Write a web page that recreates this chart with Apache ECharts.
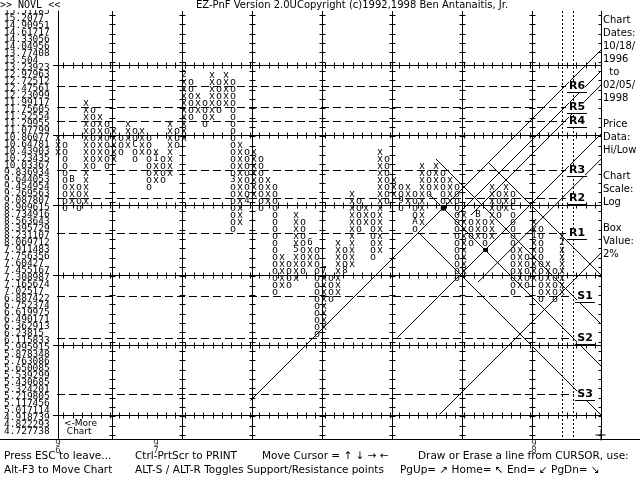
<!DOCTYPE html>
<html><head><meta charset="utf-8">
<script src="https://cdn.jsdelivr.net/npm/echarts@6/dist/echarts.min.js"></script>
<style>html,body{margin:0;padding:0;background:#fff}#c{width:640px;height:480px}</style>
</head><body><div id="c"></div>
<script>
// price level labels, one per box row (2% log boxes), bottom to top
const priceLabels = ['4.727738','4.822293','4.918739','5.017114','5.117456','5.219805','5.324201','5.430685','5.539299','5.650085',
'5.763086','5.878348','5.995915','6.115833','6.23815','6.362913','6.490171','6.619975','6.752374','6.887422',
'7.02517','7.165674','7.308987','7.455167','7.60427','7.756356','7.911483','8.069712','8.231107','8.395729',
'8.563643','8.734916','8.909615','9.087807','9.269563','9.454954','9.644053','9.836934','10.03367','10.23435',
'10.43903','10.64781','10.86077','11.07799','11.29955','11.52554','11.75605','11.99117','12.23099','12.47561',
'12.72512','12.97963','13.23923','13.504','13.77408','14.04956','14.33056','14.61717','14.90951','15.2077','15.51185'];
// point & figure columns (column 0 is an X column, then alternating O / X): lowest and highest box row
const colLow  = [40,32,33,32,33,38,39,38,39,40,41,39,40,35,36,36,37,41,42,45,46,44,45,46,47,29,30,33,34,32,33,20,
                 21,21,22,23,24,14,15,19,20,23,24,29,30,25,26,33,34,32,33,29,30,34,35,32,33,22,23,27,28,27,28,31,32,20,21,21,22,19,20,19,20];
const colHigh = [42,41,36,35,47,46,45,44,43,42,44,43,43,42,40,39,44,43,51,50,48,47,51,50,51,50,41,40,40,39,36,35,
                 25,24,31,30,27,26,23,22,27,26,34,33,32,31,40,39,36,35,35,34,38,37,38,37,36,35,31,30,31,30,35,34,35,34,26,25,30,29,24,23,28];
// month markers: [column, row, symbol]
const monthMarks = [[2,36,'B'],[11,41,'C'],[14,39,'1'],[18,51,'2'],[25,36,'3'],[27,33,'4'],[34,26,'5'],[36,27,'6'],
                    [38,23,'7'],[41,23,'8'],[49,33,'9'],[51,30,'A'],[60,31,'B'],[65,32,'C'],[68,28,'1'],[72,27,'2']];
// support points marked on the chart: [column, row]
const markPoints = [[55,32],[61,26]];
// drawn trend lines: [col1,row1,col2,row2]
const trendLines = [[27.5,4.5,77.57,54.57],[48.5,13.5,77.57,42.57],[54.5,2.5,77.57,25.57],[57,31,77.57,51.57],[59,31,77.57,49.57],
                    [60,21.4,77.57,38.97],[51.5,28.5,77.57,2.43],[53,34,77.57,9.43],[54,39,77.57,15.43],[61.5,38.5,77.57,22.43]];
// support / resistance levels (box boundaries) and their names
const srRows  = [49.5,46.5,44.5,37.5,33.5,28.5,19.5,13.5,5.5];
const srNames = ['R6','R5','R4','R3','R2','R1','S1','S2','S3'];
// year marks on the time axis
const yearCols = [0,14,68];
const yearLabels = ['96','97','98'];
// solid reference grid (every 10 boxes / 10 columns)
const gridRows = [2.5,12.5,22.5,32.5,42.5,52.5];
const gridCols = [7.714,17.714,27.714,37.714,47.714,57.714,67.714];
const cursorCols = [72,73.6];
const infoText = ['Chart','Dates:','10/18/','1996','  to','02/05/','1998','','Price','Data:','Hi/Low','','Chart','Scale:','Log','','Box','Value:','2%'];

const boxes = [], boxChars = [];
for (let c = 0; c < colLow.length; c++) {
  const t = c % 2 === 0 ? 'x' : 'o';
  for (let r = colLow[c]; r <= colHigh[c]; r++) {
    const m = monthMarks.find(d => d[0] === c && d[1] === r);
    boxes.push([c, r]); boxChars.push(m ? m[2] : t);
  }
}
const XMIN = -1/7, XMAX = 543/7, YMIN = -1, YMAX = 421/7;
const chart = echarts.init(document.getElementById('c'), null, {renderer:'canvas'});
const H = v => Math.round(v) + 0.5;
chart.setOption({
  animation: false,
  backgroundColor: '#fff',
  grid: {left: 57, right: 39, top: 11, bottom: 41},
  xAxis: {type:'value', min: XMIN, max: XMAX, axisLine:{show:false}, axisTick:{show:false}, axisLabel:{show:false}, splitLine:{show:false}},
  yAxis: {type:'value', min: YMIN, max: YMAX, interval: 1,
    axisLine:{show:true, lineStyle:{color:'#000', width:1}}, axisTick:{show:false}, splitLine:{show:false},
    axisLabel:{color:'#000', fontFamily:'DejaVu Sans Mono', fontSize:9.5, align:'left', margin:53,
      formatter: v => (Number.isInteger(v) && v >= 0 && v < priceLabels.length) ? priceLabels[v] : ''}},
  series: [
    { // grid lines with tick marks
      type:'custom', silent:true, z:1,
      data:[0],
      renderItem:(p, api) => {
        const ch = [];
        const x0 = api.coord([XMIN, 0])[0], x1 = api.coord([XMAX, 0])[0];
        const yT = api.coord([0, YMAX])[1], yB = api.coord([0, YMIN])[1];
        const st = {stroke:'#000', lineWidth:1};
        gridRows.forEach(r => { const y = H(api.coord([0, r])[1]);
          ch.push({type:'line', shape:{x1:x0-4, y1:y, x2:x1, y2:y}, style:st});
          for (let x = x0 + 6.3; x < x1 - 2; x += 9.33) ch.push({type:'line', shape:{x1:H(x), y1:y-3, x2:H(x), y2:y+3}, style:st});
        });
        gridCols.concat([XMAX]).forEach((c, i, a) => { const x = H(api.coord([c, 0])[0]);
          ch.push({type:'line', shape:{x1:x, y1:yT, x2:x, y2:yB}, style:st});
          const last = i === a.length - 1;
          for (let y = yT + 4; y < yB - 2; y += 9.33) ch.push({type:'line', shape:{x1:x-3, y1:H(y), x2:last ? x : x+3, y2:H(y)}, style:st});
        });
        cursorCols.forEach(c => { const x = H(api.coord([c, 0])[0]);
          ch.push({type:'line', shape:{x1:x, y1:yT, x2:x, y2:yB}, style:{stroke:'#000', lineWidth:1, lineDash:[2,2]}});
        });
        return {type:'group', children: ch};
      }
    },
    { // trend lines
      type:'custom', silent:true, z:2,
      data: trendLines,
      renderItem:(p, api) => {
        const a = api.coord([api.value(0), api.value(1)]), b = api.coord([api.value(2), api.value(3)]);
        return {type:'line', shape:{x1:a[0], y1:a[1], x2:b[0], y2:b[1]}, style:{stroke:'#000', lineWidth:1}};
      }
    },
    { // support / resistance levels
      type:'custom', silent:true, z:3,
      data: srRows.map(r => [r]),
      renderItem:(p, api) => {
        const r = api.value(0), y = H(api.coord([0, r])[1]);
        const x0 = api.coord([XMIN, 0])[0], xr = api.coord([XMAX, 0])[0];
        const name = srNames[p.dataIndex], isS = name[0] === 'S';
        const cx = xr - (isS ? 16 : 24);
        return {type:'group', children:[
          {type:'line', shape:{x1:x0, y1:y, x2:cx - 11, y2:y}, style:{stroke:'#000', lineWidth:1, lineDash:[8,4]}},
          {type:'text', x:cx, y:y, z2:5, style:{text:name, font:'bold 11px DejaVu Sans', fill:'#000', align:'center', verticalAlign:'middle', backgroundColor:'#fff'}},
          {type:'line', shape:{x1:cx-10, y1:y+6, x2:cx+10, y2:y+6}, style:{stroke:'#000', lineWidth:1}}
        ]};
      }
    },
    { // X / O boxes
      type:'custom', silent:true, z:4,
      data: boxes,
      renderItem:(p, api) => {
        const q = api.coord([api.value(0), api.value(1)]);
        const t = boxChars[p.dataIndex];
        return {type:'text', x:q[0], y:q[1], style:{text:t, font:(t==='x'||t==='o') ? '10px DejaVu Sans Mono' : '9px DejaVu Sans Mono', fill:'#000', align:'center', verticalAlign:'middle'}};
      }
    },
    { // marked support points
      type:'custom', silent:true, z:5,
      data: markPoints,
      renderItem:(p, api) => {
        const q = api.coord([api.value(0), api.value(1)]);
        return {type:'rect', shape:{x:Math.round(q[0])-2, y:Math.round(q[1])-2, width:5, height:4}, style:{fill:'#000'}};
      }
    },
    { // year labels
      type:'scatter', silent:true, symbolSize:0,
      data: yearCols.map(c => [c, YMIN]),
      label:{show:true, position:'bottom', distance:1, color:'#000', fontFamily:'DejaVu Sans Mono', fontSize:9, lineHeight:7,
        formatter: p => yearLabels[p.dataIndex].split('').join('\n')}
    }
  ],
  graphic: [
    {type:'rect', shape:{x:0, y:0, width:640, height:10}, style:{fill:'#fff'}, z:100},
    {type:'text', left:0, top:0, z:101, style:{text:'>> NOVL <<', font:'10px DejaVu Sans Mono', fill:'#000'}},
    {type:'text', left:196, top:0, z:101, style:{text:'EZ-PnF Version 2.0UCopyright (c)1992,1998 Ben Antanaitis, Jr.', font:'10px DejaVu Sans', fill:'#000'}},
    {type:'line', shape:{x1:0, y1:439.5, x2:640, y2:439.5}, style:{stroke:'#000', lineWidth:1}, z:100},
    {type:'text', left:603, top:14, z:101, style:{text:infoText.join('\n'), font:'10px DejaVu Sans', lineHeight:13, fill:'#000'}},
    {type:'text', left:64, top:419, z:101, style:{text:'<-More\n Chart', font:'9px DejaVu Sans', lineHeight:8, fill:'#000'}},
    {type:'group', left:593, top:427, z:101, children:[
      {type:'line', shape:{x1:0, y1:5.5, x2:10, y2:5.5}, style:{stroke:'#000'}},
      {type:'line', shape:{x1:5.5, y1:0, x2:5.5, y2:11}, style:{stroke:'#000'}}]},
    {type:'text', left:4, top:451, z:101, style:{text:'Press ESC to leave...', font:'10.5px DejaVu Sans', fill:'#000'}},
    {type:'text', left:135, top:451, z:101, style:{text:'Ctrl-PrtScr to PRINT', font:'10.5px DejaVu Sans', fill:'#000'}},
    {type:'text', left:262, top:451, z:101, style:{text:'Move Cursor = ↑ ↓ → ←', font:'10.5px DejaVu Sans', fill:'#000'}},
    {type:'text', left:418, top:451, z:101, style:{text:'Draw or Erase a line from CURSOR, use:', font:'10.5px DejaVu Sans', fill:'#000'}},
    {type:'text', left:4, top:465, z:101, style:{text:'Alt-F3 to Move Chart', font:'10.5px DejaVu Sans', fill:'#000'}},
    {type:'text', left:135, top:465, z:101, style:{text:'ALT-S / ALT-R Toggles Support/Resistance points', font:'10.5px DejaVu Sans', fill:'#000'}},
    {type:'text', left:400, top:465, z:101, style:{text:'PgUp= ↗ Home= ↖ End= ↙ PgDn= ↘', font:'10.5px DejaVu Sans', fill:'#000'}}
  ]
});
</script></body></html>
